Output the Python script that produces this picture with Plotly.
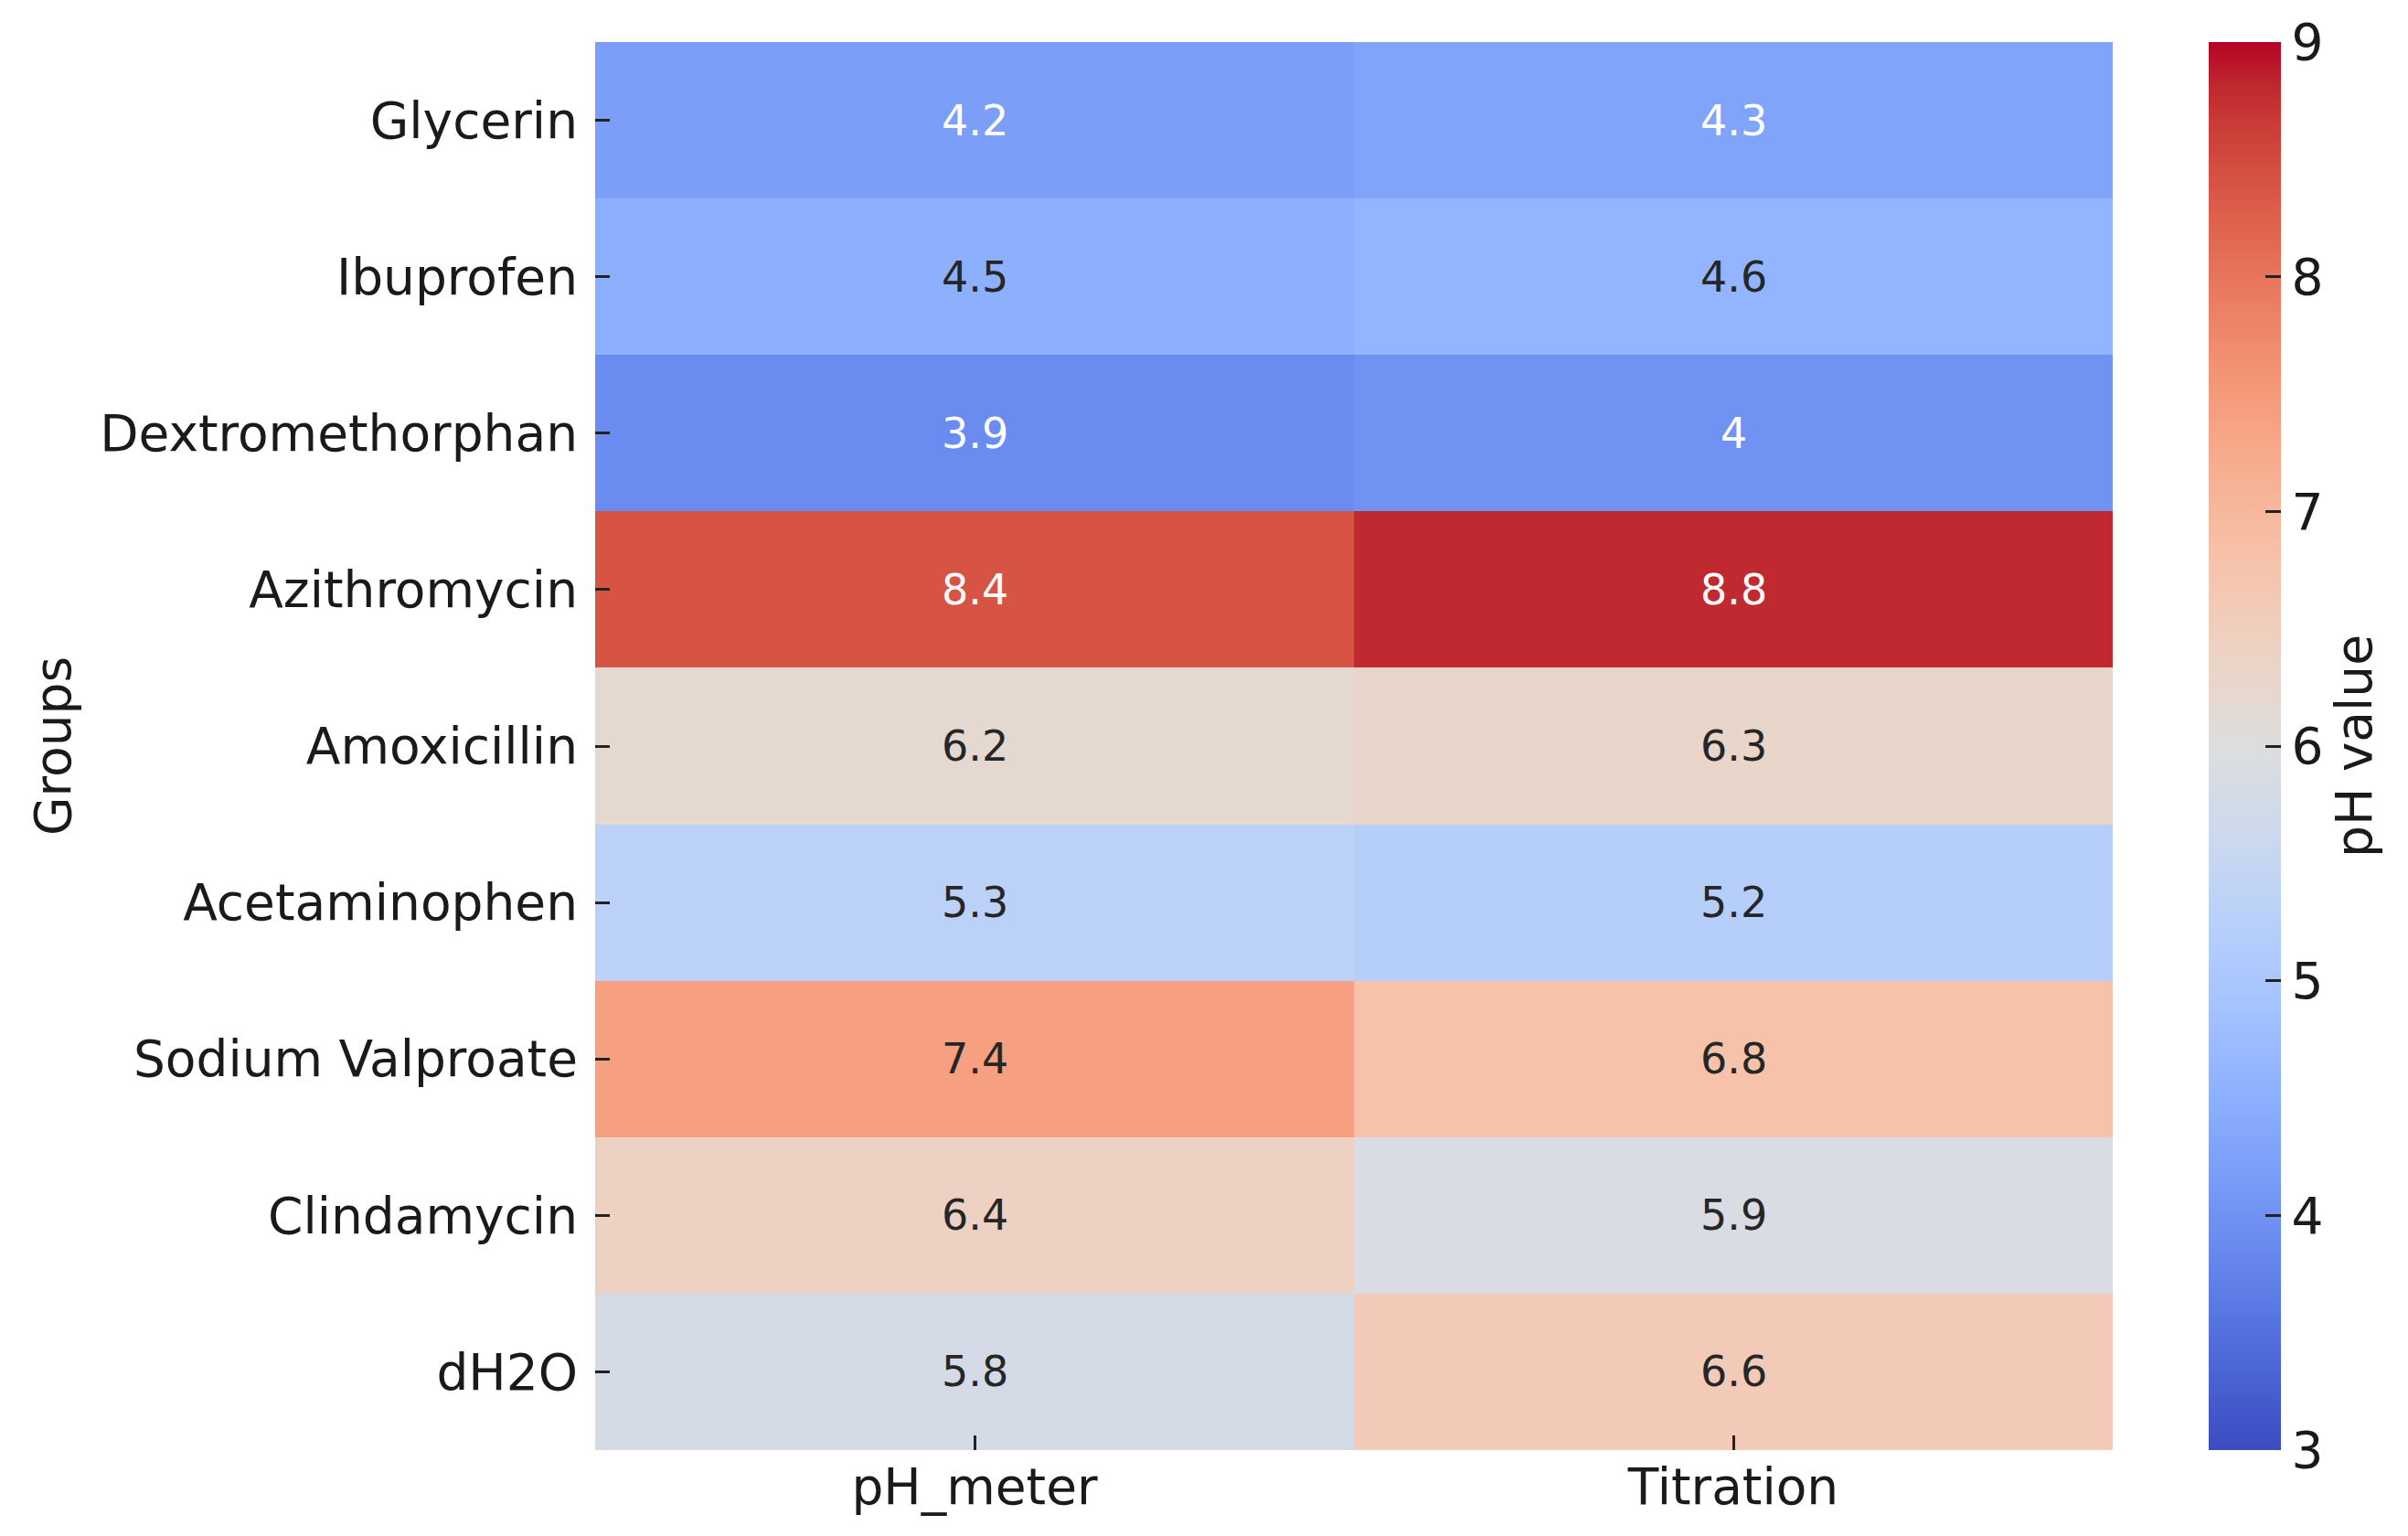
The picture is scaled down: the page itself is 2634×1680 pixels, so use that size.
import plotly.graph_objects as go

groups = ["Glycerin", "Ibuprofen", "Dextromethorphan", "Azithromycin", "Amoxicillin",
          "Acetaminophen", "Sodium Valproate", "Clindamycin", "dH2O"]
methods = ["pH_meter", "Titration"]
ph_meter = [4.2, 4.5, 3.9, 8.4, 6.2, 5.3, 7.4, 6.4, 5.8]
titration = [4.3, 4.6, 4.0, 8.8, 6.3, 5.2, 6.8, 5.9, 6.6]
cbar_ticks = [3, 4, 5, 6, 7, 8, 9]
zmin, zmax = 3, 9

# matplotlib "coolwarm" colormap samples
coolwarm_rgb = [
    (59, 76, 192), (68, 90, 204), (77, 104, 215), (87, 117, 225), (98, 130, 234),
    (108, 142, 241), (119, 154, 247), (130, 165, 251), (141, 176, 254), (152, 185, 255),
    (163, 194, 255), (174, 201, 253), (184, 208, 249), (194, 213, 244), (204, 217, 238),
    (213, 219, 230), (221, 221, 221), (229, 216, 209), (236, 211, 197), (241, 204, 185),
    (245, 196, 173), (247, 187, 160), (247, 177, 148), (247, 166, 135), (244, 154, 123),
    (241, 141, 111), (236, 127, 99), (229, 112, 88), (222, 96, 77), (213, 80, 66),
    (203, 62, 56), (192, 40, 47), (180, 4, 38),
]
n = len(coolwarm_rgb) - 1
colorscale = [[i / n, "rgb(%d,%d,%d)" % c] for i, c in enumerate(coolwarm_rgb)]


def color_at(v):
    t = min(max((v - zmin) / (zmax - zmin), 0), 1) * n
    i = min(int(t), n - 1)
    f = t - i
    a, b = coolwarm_rgb[i], coolwarm_rgb[i + 1]
    return [a[k] + (b[k] - a[k]) * f for k in range(3)]


def luminance(rgb):
    out = []
    for c in rgb:
        c = c / 255
        out.append(c / 12.92 if c <= 0.03928 else ((c + 0.055) / 1.055) ** 2.4)
    return 0.2126 * out[0] + 0.7152 * out[1] + 0.0722 * out[2]


z = [[a, b] for a, b in zip(ph_meter, titration)]

fig = go.Figure()
fig.add_trace(go.Heatmap(
    z=z, x=methods, y=groups, zmin=zmin, zmax=zmax, colorscale=colorscale,
    xgap=0, ygap=0, hoverinfo="skip",
    colorbar=dict(
        thickness=79, thicknessmode="pixels", len=1, lenmode="fraction",
        x=1.0633, xanchor="left", xpad=0, y=0.5, yanchor="middle", ypad=0,
        outlinewidth=0, tickvals=cbar_ticks, ticks="inside", ticklen=17,
        tickwidth=3, tickcolor="#222222",
        tickfont=dict(family="DejaVu Sans", size=55, color="#1a1a1a"),
        title=dict(text="pH value", side="right",
                   font=dict(family="DejaVu Sans", size=55, color="#1a1a1a")),
    ),
))

for r, g in enumerate(groups):
    for c, m in enumerate(methods):
        v = z[r][c]
        col = "#ffffff" if luminance(color_at(v)) <= 0.408 else "#262626"
        fig.add_annotation(x=m, y=g, text=f"{v:g}", showarrow=False,
                           font=dict(family="DejaVu Sans", size=46, color=col))

fig.update_layout(
    width=2634, height=1680,
    margin=dict(l=643, r=331, t=38, b=102, pad=0),
    paper_bgcolor="white", plot_bgcolor="white",
    xaxis=dict(showgrid=False, zeroline=False, ticks="inside", ticklen=16,
               tickwidth=3, tickcolor="#222222",
               tickfont=dict(family="DejaVu Sans", size=55, color="#1a1a1a"),
               ticklabelstandoff=3),
    yaxis=dict(showgrid=False, zeroline=False, autorange="reversed",
               ticks="inside", ticklen=16, tickwidth=3, tickcolor="#222222",
               tickfont=dict(family="DejaVu Sans", size=55, color="#1a1a1a"),
               ticklabelstandoff=18,
               title=dict(text="Groups", standoff=13,
                          font=dict(family="DejaVu Sans", size=55, color="#1a1a1a"))),
)

fig.write_html("out.html")
